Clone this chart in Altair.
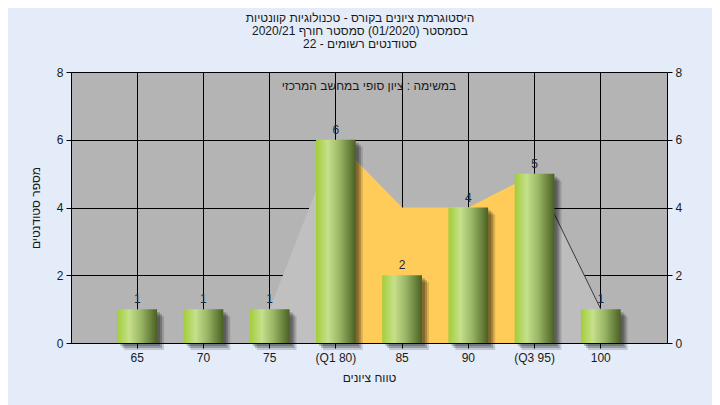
import altair as alt
import pandas as pd

categories = ["65", "70", "75", "(Q1 80)", "85", "90", "(Q3 95)", "100"]
counts = [1, 1, 1, 6, 2, 4, 5, 1]

gray_left_cats = ["75", "(Q1 80)"]
gray_left_vals = [1, 6]
iqr_cats = ["(Q1 80)", "85", "90", "(Q3 95)"]
iqr_vals = [6, 4, 4, 5]
gray_right_cats = ["(Q3 95)", "100"]
gray_right_vals = [5, 1]

title_lines = [
    "היסטוגרמת ציונים בקורס - טכנולוגיות קוונטיות",
    "בסמסטר  (01/2020)  סמסטר חורף 2020/21",
    "סטודנטים רשומים - 22",
]
subtitle = "במשימה : ציון סופי במחשב המרכזי"
x_title = "טווח ציונים"
y_title = "מספר סטודנטים"

FONT = "Liberation Sans"

bars_df = pd.DataFrame({"cat": categories, "n": counts})
gl_df = pd.DataFrame({"cat": gray_left_cats, "v": gray_left_vals})
iqr_df = pd.DataFrame({"cat": iqr_cats, "v": iqr_vals})
gr_df = pd.DataFrame({"cat": gray_right_cats, "v": gray_right_vals})

xscale = alt.Scale(domain=categories, paddingInner=0.4, paddingOuter=0.7)
yscale = alt.Scale(domain=[0, 8], nice=False)

x_axis = alt.Axis(
    title=x_title, labelAngle=0, bandPosition=0.5, grid=True, gridColor="#000000",
    gridOpacity=1, gridWidth=1, domainColor="#000000", tickColor="#000000", tickSize=5,
    labelFont=FONT, labelFontSize=12, labelColor="#1a1a1a", labelPadding=4,
    titleFont=FONT, titleFontSize=12, titleFontWeight="normal", titleColor="#1a1a1a",
    titlePadding=9,
)
x_enc = alt.X("cat:N", scale=xscale, sort=categories, axis=x_axis)

y_left_axis = alt.Axis(
    title=y_title, values=[0, 2, 4, 6, 8], grid=True, gridColor="#000000", gridOpacity=1,
    gridWidth=1, domainColor="#000000", tickColor="#000000", tickSize=5,
    labelFont=FONT, labelFontSize=12, labelColor="#1a1a1a", labelPadding=3,
    titleFont=FONT, titleFontSize=12, titleFontWeight="normal", titleColor="#1a1a1a",
    titlePadding=14,
)
y_right_axis = alt.Axis(
    title=None, orient="right", values=[0, 2, 4, 6, 8], grid=False,
    domainColor="#000000", tickColor="#000000", tickSize=5,
    labelFont=FONT, labelFontSize=12, labelColor="#1a1a1a", labelPadding=3,
)

area_left = alt.Chart(gl_df).mark_area(color="#c0c0c0", opacity=1).encode(
    x=x_enc, y=alt.Y("v:Q", scale=yscale, axis=y_left_axis)
)
area_iqr = alt.Chart(iqr_df).mark_area(color="#ffcc5a", opacity=1).encode(
    x=x_enc, y=alt.Y("v:Q", scale=yscale, axis=None)
)
area_right = alt.Chart(gr_df).mark_area(color="#bdbdbd", opacity=1).encode(
    x=x_enc, y=alt.Y("v:Q", scale=yscale, axis=None)
)
line_right = alt.Chart(gr_df).mark_line(color="#3a3a3a", strokeWidth=1).encode(
    x=x_enc, y=alt.Y("v:Q", scale=yscale, axis=None)
)

shadows = []
for off, op in [(3, 0.22), (5, 0.22), (7, 0.15)]:
    shadows.append(
        alt.Chart(bars_df).mark_bar(color="#000000", opacity=op, xOffset=off, yOffset=off).encode(
            x=x_enc, y=alt.Y("n:Q", scale=yscale, axis=None)
        )
    )

grad = alt.Gradient(
    gradient="linear",
    stops=[
        alt.GradientStop(color="#a2cd3a", offset=0),
        alt.GradientStop(color="#c6e08b", offset=0.3),
        alt.GradientStop(color="#98b565", offset=0.6),
        alt.GradientStop(color="#4a6022", offset=1),
    ],
    x1=0, x2=1, y1=0, y2=0,
)
bars = alt.Chart(bars_df).mark_bar(color=grad).encode(
    x=x_enc, y=alt.Y("n:Q", scale=yscale, axis=y_right_axis)
)
labels = alt.Chart(bars_df).mark_text(
    baseline="bottom", dy=-3, font=FONT, fontSize=12, color="#1c2a48"
).encode(x=x_enc, y=alt.Y("n:Q", scale=yscale, axis=None), text="n:Q")

sub = alt.Chart(pd.DataFrame({"t": [subtitle]})).mark_text(
    font=FONT, fontSize=12, color="#1a1a1a", baseline="middle", align="center"
).encode(x=alt.value(298), y=alt.value(14), text="t:N")

chart = alt.layer(
    area_left, area_iqr, area_right, line_right, *shadows, bars, labels, sub
).resolve_axis(y="independent").properties(
    width=596,
    height=271,
    autosize=alt.AutoSizeParams(type="none"),
    padding={"left": 63, "top": 64, "right": 45, "bottom": 62},
    background="#e3ecf8",
    title=alt.TitleParams(
        text=title_lines, font=FONT, fontSize=12, fontWeight="normal", color="#1a1a1a",
        anchor="middle", lineHeight=13, offset=15, dx=-9,
    ),
).configure_view(fill="#b4b4b4", stroke=None)

chart.save("out.html", embed_options={"renderer": "svg", "actions": False})
